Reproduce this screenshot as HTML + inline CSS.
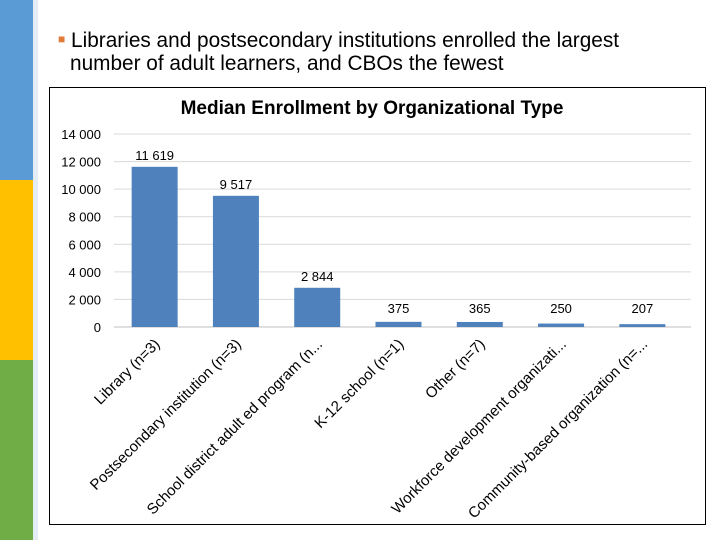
<!DOCTYPE html>
<html><head><meta charset="utf-8"><style>
body{margin:0;width:720px;height:540px;background:#fff;font-family:"Liberation Sans",sans-serif;overflow:hidden;position:relative}
.s{position:absolute;left:0;width:33px}
</style></head><body>
<div class="s" style="top:0;height:180px;background:#5b9bd5"></div>
<div class="s" style="top:180px;height:180px;background:#ffc000"></div>
<div class="s" style="top:360px;height:180px;background:#70ad47"></div>
<div style="position:absolute;left:33px;top:0;width:5px;height:540px;background:#e4ecf5"></div>
<div style="position:absolute;left:58px;top:28px;font-size:20.8px;line-height:23px;color:#000">
<span style="color:#e07b39;font-size:12px;vertical-align:4px">■</span> Libraries and postsecondary institutions enrolled the largest<br><span style="padding-left:12px">number of adult learners, and CBOs the fewest</span></div>
<svg width="720" height="540" style="position:absolute;left:0;top:0">
<rect x="49.5" y="87.5" width="656" height="437" fill="none" stroke="#000" stroke-width="1"/>
<text x="372" y="114" text-anchor="middle" font-size="19" font-weight="bold" font-family="Liberation Sans">Median Enrollment by Organizational Type</text>
<g id="g"></g>
</svg>
<script>
const categories=["Library (n=3)","Postsecondary institution (n=3)","School district adult ed program (n...","K-12 school (n=1)","Other (n=7)","Workforce development organizati...","Community-based organization (n=..."];
const values=[11619,9517,2844,375,365,250,207];
const valueLabels=["11 619","9 517","2 844","375","365","250","207"];
const ticks=[0,2000,4000,6000,8000,10000,12000,14000];
const tickLabels=["0","2 000","4 000","6 000","8 000","10 000","12 000","14 000"];
const X0=114,X1=683,Y0=327,Y1=134,MAX=14000;
const y=v=>Y0-(v/MAX)*(Y0-Y1);
const bw=(X1-X0)/categories.length;
const x=i=>X0+bw*(i+0.5);
const g=document.getElementById('g');const NS="http://www.w3.org/2000/svg";
function mk(t,a){const e=document.createElementNS(NS,t);for(const k in a)e.setAttribute(k,a[k]);g.appendChild(e);return e;}
ticks.forEach((t,i)=>{
 const l=mk('line',{x1:X0,x2:X1+8,y1:y(t),y2:y(t),stroke:i==0?'#bfbfbf':'#d9d9d9'});
 
 
 const tx=mk('text',{x:101,y:y(t)+5,'text-anchor':'end','font-size':13,'font-family':'Liberation Sans'});
 tx.textContent=tickLabels[i];
 
 
});
values.forEach((v,i)=>{
 const r=mk('rect',{x:x(i)-23,y:y(v),width:46,height:Y0-y(v),fill:'#4f81bd'});
 
 
 const lb=mk('text',{x:x(i),y:Math.min(y(v)-7,313),'text-anchor':'middle','font-size':13,'font-family':'Liberation Sans'});
 lb.textContent=valueLabels[i];
 
 
 const cl=mk('text',{x:x(i)+6,y:345,'text-anchor':'end','font-size':15,'font-family':'Liberation Sans',transform:`rotate(-45 ${x(i)+6} 345)`});
 cl.textContent=categories[i];
 
 
});
</script>
</body></html>
